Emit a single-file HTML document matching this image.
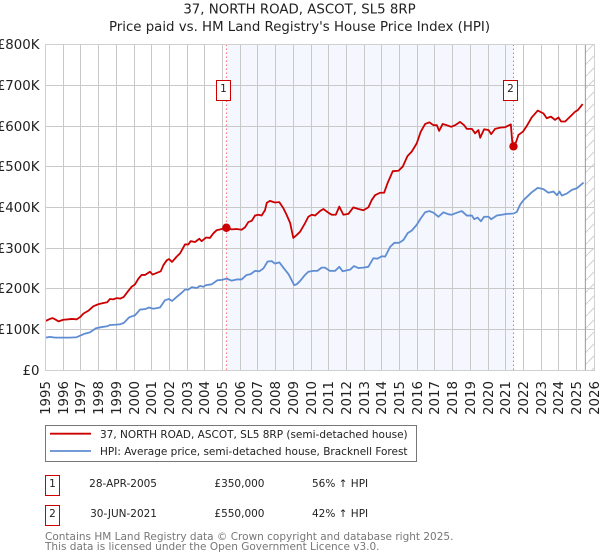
<!DOCTYPE html>
<html lang="en">
<head>
<meta charset="utf-8">
<title>37, NORTH ROAD, ASCOT, SL5 8RP</title>
<style>
html,body{margin:0;padding:0;background:#fff;width:600px;height:560px;overflow:hidden}
svg{display:block;font-family:"DejaVu Sans","Liberation Sans",sans-serif}
</style>
</head>
<body>
<svg id="chart" xmlns="http://www.w3.org/2000/svg" width="600" height="560" viewBox="0 0 600 560">
<defs>
<pattern id="hatch" patternUnits="userSpaceOnUse" width="12" height="12" y="2">
<line x1="0" y1="12" x2="12" y2="0" stroke="#cfcfcf" stroke-width="1"/>
</pattern>
</defs>
<text x="299.5" y="13.5" text-anchor="middle" font-size="13.33" fill="#222">37, NORTH ROAD, ASCOT, SL5 8RP</text>
<text x="299.5" y="31" text-anchor="middle" font-size="13.33" fill="#222">Price paid vs. HM Land Registry's House Price Index (HPI)</text>
<g id="plot"></g>
<g>
<rect x="45.5" y="425.5" width="371" height="36" fill="#fff" stroke="#777" stroke-width="1"/>
<line x1="50" y1="433.7" x2="91" y2="433.7" stroke="#cc0000" stroke-width="1.8"/>
<text x="100" y="438" font-size="10.5" fill="#222">37, NORTH ROAD, ASCOT, SL5 8RP (semi-detached house)</text>
<line x1="50" y1="451" x2="91" y2="451" stroke="#5f8dd3" stroke-width="1.8"/>
<text x="100" y="455" font-size="10.5" fill="#222">HPI: Average price, semi-detached house, Bracknell Forest</text>
</g>
<g font-size="10.5" fill="#222">
<rect x="45.5" y="475.5" width="14" height="20" fill="#fff" stroke="#cc0000"/>
<text x="52.5" y="487" text-anchor="middle">1</text>
<text x="157" y="487" text-anchor="end">28-APR-2005</text>
<text x="264.5" y="487" text-anchor="end">£350,000</text>
<text x="312" y="487">56% ↑ HPI</text>
<rect x="45.5" y="505.5" width="14" height="20" fill="#fff" stroke="#cc0000"/>
<text x="52.5" y="517" text-anchor="middle">2</text>
<text x="157" y="517" text-anchor="end">30-JUN-2021</text>
<text x="264.5" y="517" text-anchor="end">£550,000</text>
<text x="312" y="517">42% ↑ HPI</text>
</g>
<text x="45" y="540" font-size="10.5" fill="#777">Contains HM Land Registry data © Crown copyright and database right 2025.</text>
<text x="45" y="550" font-size="10.5" fill="#777">This data is licensed under the Open Government Licence v3.0.</text>
</svg>
<script>
const yearTicks = [1995,1996,1997,1998,1999,2000,2001,2002,2003,2004,2005,2006,2007,2008,2009,2010,2011,2012,2013,2014,2015,2016,2017,2018,2019,2020,2021,2022,2023,2024,2025,2026];
const valueTicks = [0,100,200,300,400,500,600,700,800];
const valueTickLabels = ['£0','£100K','£200K','£300K','£400K','£500K','£600K','£700K','£800K'];
const priceYears = [1995.01,1995.25,1995.40,1995.54,1995.73,1996.01,1996.29,1996.48,1996.76,1996.97,1997.14,1997.42,1997.70,1997.98,1998.27,1998.49,1998.64,1998.82,1999.02,1999.23,1999.42,1999.68,1999.87,2000.06,2000.25,2000.43,2000.62,2000.90,2001.05,2001.28,2001.51,2001.66,2001.85,2001.98,2002.15,2002.41,2002.60,2002.88,2003.07,2003.20,2003.45,2003.69,2003.82,2004.07,2004.29,2004.48,2004.67,2004.96,2005.22,2005.52,2005.80,2006.08,2006.27,2006.46,2006.65,2006.84,2007.02,2007.21,2007.40,2007.50,2007.68,2007.96,2008.21,2008.44,2008.63,2008.82,2009.00,2009.19,2009.38,2009.66,2009.85,2010.04,2010.23,2010.51,2010.70,2010.98,2011.17,2011.40,2011.60,2011.83,2012.11,2012.39,2012.68,2012.96,2013.24,2013.43,2013.62,2013.90,2014.13,2014.32,2014.62,2014.94,2015.18,2015.45,2015.69,2015.97,2016.20,2016.45,2016.69,2016.92,2017.11,2017.24,2017.44,2017.67,2017.92,2018.14,2018.42,2018.65,2018.80,2019.09,2019.27,2019.46,2019.56,2019.78,2020.03,2020.18,2020.40,2020.69,2020.97,2021.29,2021.37,2021.44,2021.59,2021.72,2021.97,2022.19,2022.47,2022.81,2023.13,2023.32,2023.55,2023.79,2023.98,2024.13,2024.36,2024.64,2024.92,2025.07,2025.35];
const priceValues = [121,126,128,125,120,124,125,126,125,131,139,146,157,162,165,167,175,174,177,176,180,195,205,211,225,234,234,242,235,239,243,258,270,273,266,279,287,309,309,317,315,323,317,326,325,336,344,347,350,346,347,345,351,364,367,380,382,380,393,411,416,412,413,398,381,362,325,332,340,361,377,382,380,391,396,387,382,382,402,382,384,400,396,393,400,418,430,436,436,459,489,490,500,526,537,557,586,605,609,602,602,588,605,602,598,602,610,602,593,593,582,590,571,592,590,580,593,596,597,604,561,550,561,578,586,600,621,638,631,619,623,615,621,611,611,623,635,639,654];
const hpiYears = [1995.01,1995.25,1995.54,1996.01,1996.38,1996.76,1996.97,1997.23,1997.51,1997.85,1998.17,1998.49,1998.64,1999.02,1999.23,1999.42,1999.73,2000.06,2000.34,2000.62,2000.85,2001.09,2001.47,2001.75,2001.98,2002.15,2002.41,2002.69,2002.88,2003.07,2003.26,2003.54,2003.73,2003.92,2004.07,2004.39,2004.71,2004.96,2005.24,2005.52,2005.80,2006.08,2006.36,2006.59,2006.84,2007.08,2007.31,2007.55,2007.78,2007.96,2008.21,2008.44,2008.73,2008.91,2009.05,2009.19,2009.38,2009.66,2009.85,2010.13,2010.36,2010.60,2010.79,2011.07,2011.36,2011.60,2011.79,2012.21,2012.43,2012.68,2012.96,2013.24,2013.52,2013.75,2014.00,2014.19,2014.47,2014.71,2014.98,2015.22,2015.47,2015.69,2015.97,2016.20,2016.45,2016.69,2016.92,2017.20,2017.48,2017.77,2017.96,2018.24,2018.52,2018.80,2019.09,2019.22,2019.41,2019.60,2019.78,2020.03,2020.18,2020.50,2020.78,2021.07,2021.44,2021.63,2021.82,2022.01,2022.47,2022.81,2023.13,2023.41,2023.70,2023.89,2024.04,2024.17,2024.45,2024.74,2025.02,2025.40];
const hpiValues = [80,82,80,80,80,81,85,90,93,103,106,108,111,112,113,116,130,135,149,150,154,151,154,172,175,170,180,190,198,198,204,202,207,205,209,211,221,222,225,220,223,223,234,236,244,243,250,267,268,262,265,252,236,221,209,211,219,234,242,244,244,252,252,244,244,254,243,247,256,251,252,254,275,274,280,279,303,313,313,320,337,343,357,373,388,391,387,377,388,383,382,387,391,380,380,371,375,366,377,377,371,380,382,384,385,389,407,418,437,448,445,436,439,430,439,429,434,443,447,461];
const saleYears = [2005.22,2021.44];
const saleValues = [350,550];
const saleLabels = ['1','2'];
const forecastStartYear = 2025.5;

const SVG_NS = 'http://www.w3.org/2000/svg';
const plot = document.getElementById('plot');
const LEFT = 45.5, PER_YEAR = 17.7, ZERO_Y = 370.2, PER_K = 0.407;
const RIGHT = 594.5, TOP = 44.5;
function xScale(year){ return LEFT + (year - 1995) * PER_YEAR; }
function yScale(value){ return ZERO_Y - value * PER_K; }
function snap(v){ return Math.floor(v) + 0.5; }
function make(tag, attrs){
  const el = document.createElementNS(SVG_NS, tag);
  for (const k in attrs) el.setAttribute(k, attrs[k]);
  plot.appendChild(el);
  return el;
}

const band = make('rect', {x: xScale(saleYears[0]), y: TOP, width: xScale(saleYears[1]) - xScale(saleYears[0]), height: ZERO_Y - TOP, fill: '#f4f7fe'});



const hatchRect = make('rect', {x: xScale(forecastStartYear), y: TOP, width: RIGHT - xScale(forecastStartYear), height: ZERO_Y - TOP, fill: 'url(#hatch)'});



yearTicks.forEach(function(year){
  const gx = snap(xScale(year));
  const grid = make('line', {x1: gx, x2: gx, y1: TOP, y2: ZERO_Y, stroke: '#c9c9c9', 'stroke-width': 1});
  
  
  const label = make('text', {x: 0, y: 0, transform: 'translate(' + (gx + 4.5) + ',381) rotate(-90)', 'text-anchor': 'end', 'font-size': 13.33, fill: '#222'});
  label.textContent = year;
  
  
});

valueTicks.forEach(function(value, i){
  const gy = snap(yScale(value));
  const grid = make('line', {x1: LEFT, x2: RIGHT, y1: gy, y2: gy, stroke: '#c9c9c9', 'stroke-width': 1});
  
  
  const label = make('text', {x: 39.5, y: gy + 4.5, 'text-anchor': 'end', 'font-size': 13.33, fill: '#222'});
  label.textContent = valueTickLabels[i];
  
  
});

const forecastLine = make('line', {x1: xScale(forecastStartYear), x2: xScale(forecastStartYear), y1: TOP, y2: ZERO_Y, stroke: '#999', 'stroke-width': 1});



function pathFrom(years, values){
  return years.map(function(y, i){ return (i ? 'L' : 'M') + xScale(y).toFixed(2) + ' ' + yScale(values[i]).toFixed(2); }).join('');
}

const hpiPath = make('path', {d: pathFrom(hpiYears, hpiValues), fill: 'none', stroke: '#5f8dd3', 'stroke-width': 1.8, 'stroke-linejoin': 'round'});



const pricePath = make('path', {d: pathFrom(priceYears, priceValues), fill: 'none', stroke: '#cc0000', 'stroke-width': 1.8, 'stroke-linejoin': 'round'});



saleYears.forEach(function(year, i){
  const sx = xScale(year);
  const rule = make('line', {x1: sx, x2: sx, y1: TOP, y2: ZERO_Y, stroke: '#ff6b6b', 'stroke-width': 1, 'stroke-dasharray': '1.5 2.5'});
  
  
  const dot = make('circle', {cx: sx, cy: yScale(saleValues[i]), r: 4.2, fill: '#cc0000'});
  
  
  const box = make('rect', {x: snap(sx - 10), y: 80.5, width: 14, height: 20, fill: '#fff', stroke: '#cc0000', 'stroke-width': 1});
  
  
  const num = make('text', {x: snap(sx - 10) + 7, y: 92, 'text-anchor': 'middle', 'font-size': 10.5, fill: '#222'});
  num.textContent = saleLabels[i];
  
  
});

const frame = make('rect', {x: LEFT, y: TOP, width: RIGHT - LEFT, height: ZERO_Y - TOP + 0.3, fill: 'none', stroke: '#d0d0d0', 'stroke-width': 1});


</script>
</body>
</html>
